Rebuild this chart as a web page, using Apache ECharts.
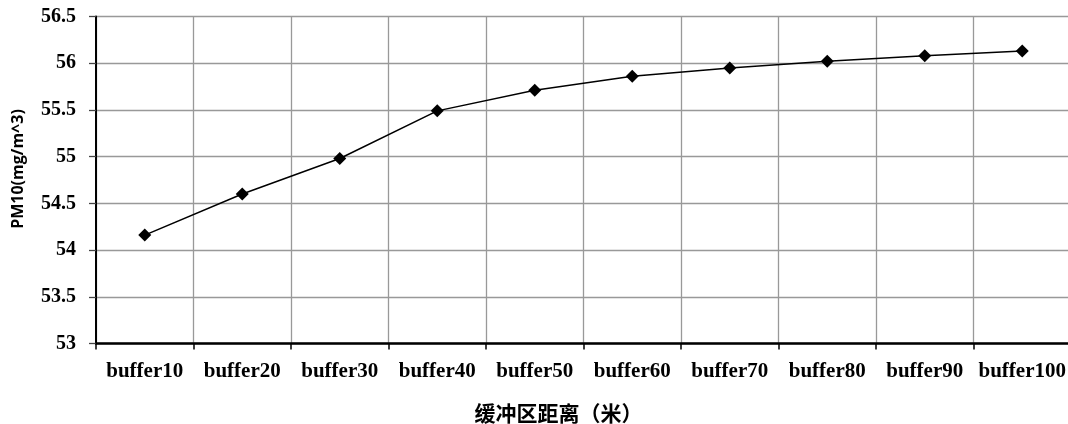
<!DOCTYPE html>
<html>
<head>
<meta charset="utf-8">
<script src="https://cdn.jsdelivr.net/npm/echarts@6/dist/echarts.min.js"></script>
<style>
  html, body { margin: 0; padding: 0; background: #fff; }
  #chart { width: 1068px; height: 424px; }
</style>
</head>
<body>
<div id="chart"></div>
<script>
// Buffer zones (distance in metres) and mean PM10 within each
const categories = ['buffer10', 'buffer20', 'buffer30', 'buffer40', 'buffer50',
                    'buffer60', 'buffer70', 'buffer80', 'buffer90', 'buffer100'];
const pm10Values = [54.16, 54.6, 54.98, 55.49, 55.71, 55.86, 55.95, 56.02, 56.08, 56.13];
const yTicks = { min: 53, max: 56.5, step: 0.5 };
const xAxisTitle = '缓冲区距离（米）';
const yAxisTitle = 'PM10(mg/m^3)';

const serifBold = { fontFamily: '"Liberation Serif", "Times New Roman", serif', fontWeight: 'bold', color: '#000' };

const chart = echarts.init(document.getElementById('chart'), null, { renderer: 'canvas' });
chart.setOption({
  animation: false,
  backgroundColor: '#fff',
  grid: { left: 96, top: 16.5, width: 975, bottom: 80.5, containLabel: false, outerBoundsMode: 'none' },
  xAxis: {
    type: 'category',
    data: categories,
    boundaryGap: true,
    name: xAxisTitle,
    nameLocation: 'middle',
    nameGap: 59,
    nameTextStyle: {
      fontFamily: '"Noto Sans CJK SC", sans-serif', fontWeight: 'bold', fontSize: 21, color: '#000',
      padding: [0, 50, 0, 0]
    },
    axisLine: { show: true, lineStyle: { color: '#000', width: 2.5 } },
    axisTick: { show: true, alignWithLabel: false, length: 6, lineStyle: { color: '#000', width: 1.5 } },
    axisLabel: Object.assign({ fontSize: 21, margin: 18, interval: 0 }, serifBold),
    splitLine: { show: true, interval: 0, lineStyle: { color: '#999', width: 1.3 } }
  },
  yAxis: {
    type: 'value',
    min: yTicks.min,
    max: yTicks.max,
    interval: yTicks.step,
    name: yAxisTitle,
    nameLocation: 'middle',
    nameGap: 70,
    nameTextStyle: {
      fontFamily: '"Open Sans", sans-serif', fontWeight: 'bold', fontSize: 16, color: '#000',
      padding: [0, 0, 0, 22]
    },
    axisLine: { show: true, lineStyle: { color: '#000', width: 2 } },
    axisTick: { show: true, length: 7, lineStyle: { color: '#444', width: 1.3 } },
    axisLabel: Object.assign({ fontSize: 20, margin: 20 }, serifBold),
    splitLine: { show: true, lineStyle: { color: '#999', width: 1.3 } }
  },
  series: [{
    type: 'line',
    data: pm10Values,
    symbol: 'diamond',
    symbolSize: 13,
    itemStyle: { color: '#000' },
    lineStyle: { color: '#000', width: 1.5 },
    z: 5
  }]
});
</script>
</body>
</html>
